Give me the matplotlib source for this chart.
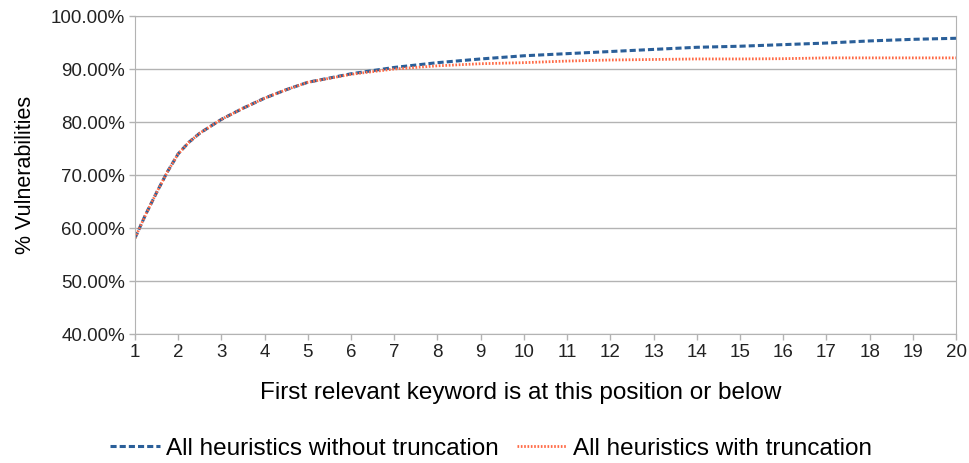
import matplotlib
matplotlib.use("Agg")
import matplotlib.pyplot as plt
from matplotlib.ticker import FuncFormatter, MultipleLocator

plt.rcParams['font.family'] = ['Liberation Sans', 'DejaVu Sans']

positions = [1, 1.25, 1.5, 1.75, 2, 2.25, 2.5, 3, 3.5, 4, 4.5, 5, 6, 7, 8, 9, 10, 11, 12, 13, 14, 15, 16, 17, 18, 19, 20]
without_trunc = [58.1, 62.6, 66.7, 70.6, 74.0, 76.2, 77.9, 80.5, 82.6, 84.5, 86.1, 87.5, 89.1, 90.3, 91.2, 91.9, 92.5,
                 92.9, 93.3, 93.7, 94.1, 94.3, 94.6, 94.9, 95.3, 95.6, 95.8]
with_trunc = [58.1, 62.6, 66.7, 70.6, 74.0, 76.2, 77.9, 80.5, 82.6, 84.5, 86.1, 87.5, 89.0, 90.0, 90.6, 91.0, 91.2,
              91.5, 91.7, 91.8, 91.9, 91.9, 91.95, 92.1, 92.1, 92.1, 92.1]
x_ticks = list(range(1, 21))

fig = plt.figure(figsize=(9.69, 4.63), dpi=100)
ax = fig.add_axes([0.1393, 0.2786, 0.8473, 0.6868])

ax.plot(positions, without_trunc, color='#2a5f99', lw=2.2, ls=(0, (2, 1)),
        label='All heuristics without truncation')
ax.plot(positions, with_trunc, color='#ff6a45', lw=2.0, ls=(0, (0.6, 0.6)),
        label='All heuristics with truncation')

ax.set_xlim(1, 20)
ax.set_ylim(40, 100)
ax.set_xticks(x_ticks)
ax.yaxis.set_major_locator(MultipleLocator(10))
ax.yaxis.set_major_formatter(FuncFormatter(lambda v, p: f"{v:.2f}%"))
ax.grid(axis='y', color='#b3b3b3', lw=1)
ax.set_axisbelow(True)
for s in ax.spines.values():
    s.set_color('#b3b3b3')
ax.tick_params(axis='both', colors='#b3b3b3', labelcolor='#222222', labelsize=13.5, length=4, width=1)
ax.tick_params(axis='y', pad=3)

ax.set_xlabel('First relevant keyword is at this position or below', fontsize=17.5)
ax.xaxis.set_label_coords(0.4696, -0.151)
ax.set_ylabel('% Vulnerabilities', fontsize=15.5)
ax.yaxis.set_label_coords(-0.121, 0.5)

fig.legend(loc='lower center', bbox_to_anchor=(0.507, -0.04), ncol=2, frameon=False,
           fontsize=17.5, handlelength=2.05, handletextpad=0.25, columnspacing=0.75)

fig.savefig('out.png', dpi=100)
